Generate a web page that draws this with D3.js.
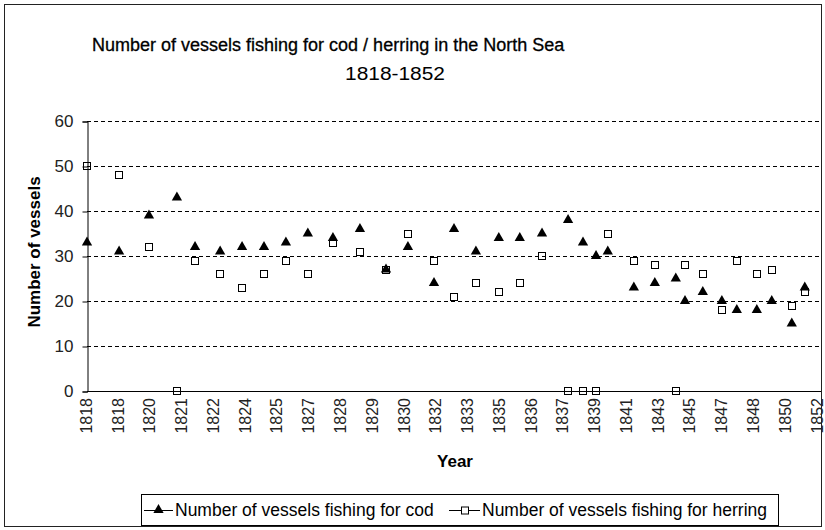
<!DOCTYPE html>
<html>
<head>
<meta charset="utf-8">
<script src="https://cdn.jsdelivr.net/npm/d3@7"></script>
<style>
  body { margin: 0; background: #fff; }
  svg { display: block; font-family: "Liberation Sans", Arial, sans-serif; }
</style>
</head>
<body>
<svg id="chart" width="825" height="530"></svg>
<script>
// ---- Data ----
const years = [1818,1819,1820,1821,1822,1823,1824,1825,1826,1827,1828,1829,1830,1831,1832,1833,1834,1835,1836,1837,1838,1839,1840,1841,1842,1843,1844,1845,1846,1847,1848,1849,1850,1851,1852];
// position of each observation along the year axis, in label steps
const yearPosition = [0,1.01,1.95,2.83,3.40,4.19,4.88,5.57,6.26,6.95,7.74,8.59,9.41,10.10,10.92,11.55,12.24,12.96,13.62,14.32,15.14,15.61,16.02,16.39,17.21,17.87,18.53,18.82,19.38,19.98,20.45,21.08,21.55,22.18,22.59];
const codVessels = [33,31,39,43,32,31,32,32,33,35,34,36,27,32,24,36,31,34,34,35,38,33,30,31,23,24,25,20,22,20,18,18,20,15,23];
const herringVessels = [50,48,32,0,29,26,23,26,29,26,33,31,27,35,29,21,24,22,24,30,0,0,0,35,29,28,0,28,26,18,29,26,27,19,22];
const xTickLabels = ["1818","1818","1820","1821","1822","1824","1825","1827","1828","1829","1830","1832","1833","1835","1836","1837","1839","1841","1843","1845","1847","1848","1850","1852"];
const yTicks = [0,10,20,30,40,50,60];
const seriesNames = ["Number of vessels fishing for cod", "Number of vessels fishing for herring"];
const titleLines = ["Number of vessels fishing for cod / herring in the North Sea", "1818-1852"];

// ---- Layout ----
const svg = d3.select("#chart");
const plot = {left: 87, right: 821, top: 121, bottom: 391};

const x = d3.scaleLinear().domain([0, 23.1]).range([plot.left, plot.right]);
const y = d3.scaleLinear().domain([0, 60]).range([plot.bottom, plot.top]);

// outer border
svg.append("rect").attr("x", 4.5).attr("y", 4.5).attr("width", 817).attr("height", 522)
  .attr("fill", "none").attr("stroke", "#222").attr("stroke-width", 1);

// title
svg.append("text").attr("x", 92).attr("y", 51).attr("font-size", 18).attr("fill", "#000")
  .attr("stroke", "#000").attr("stroke-width", 0.3)
  .text(titleLines[0]);
svg.append("text").attr("x", 345).attr("y", 80).attr("font-size", 18).attr("fill", "#000")
  .attr("textLength", 100).attr("lengthAdjust", "spacingAndGlyphs").text(titleLines[1]);

// gridlines
svg.append("g").selectAll("line").data(yTicks.filter(d => d > 0)).join("line")
  .attr("x1", plot.left).attr("x2", plot.right)
  .attr("y1", d => Math.round(y(d)) + 0.5).attr("y2", d => Math.round(y(d)) + 0.5)
  .attr("stroke", "#000").attr("stroke-width", 1).attr("stroke-dasharray", "4,3");

// y axis
const yAxis = d3.axisLeft(y).tickValues(yTicks).tickSize(5).tickPadding(9).tickFormat(d3.format("d"));
const gy = svg.append("g").attr("transform", `translate(${plot.left + 0.5},0.5)`).call(yAxis);
gy.select(".domain").attr("stroke", "#000");
gy.selectAll(".tick line").attr("stroke", "#000");
gy.selectAll(".tick text").attr("font-size", 17).attr("font-family", "Liberation Sans, Arial, sans-serif").attr("fill", "#222");

// x axis line
svg.append("line").attr("x1", plot.left).attr("x2", plot.right)
  .attr("y1", plot.bottom + 0.5).attr("y2", plot.bottom + 0.5).attr("stroke", "#000");

// x tick labels (rotated)
const xTicks = d3.range(xTickLabels.length);
svg.append("g").selectAll("text").data(xTicks).join("text")
  .attr("transform", d => `translate(${x(d) - 1},398) rotate(-90)`)
  .attr("text-anchor", "end").attr("dy", "0.36em")
  .attr("font-size", 16).attr("fill", "#222")
  .text(d => xTickLabels[d]);

// axis titles
svg.append("text").attr("transform", "translate(40,252) rotate(-90)")
  .attr("text-anchor", "middle").attr("font-size", 17).attr("font-weight", "bold")
  .text("Number of vessels");
svg.append("text").attr("x", 455).attr("y", 467).attr("text-anchor", "middle")
  .attr("font-size", 17).attr("font-weight", "bold").text("Year");

// markers
const tri = d3.symbol().type(d3.symbolTriangle).size(46);
svg.append("g").selectAll("path").data(codVessels).join("path")
  .attr("transform", (d, i) => `translate(${x(yearPosition[i])},${y(d)})`)
  .attr("d", tri).attr("fill", "#000");

svg.append("g").selectAll("rect").data(herringVessels).join("rect")
  .attr("x", (d, i) => Math.round(x(yearPosition[i])) - 3.5)
  .attr("y", d => Math.round(y(d)) - 3.5)
  .attr("width", 7).attr("height", 7)
  .attr("fill", "none").attr("stroke", "#000").attr("stroke-width", 1);

// legend
const lg = svg.append("g");
lg.append("rect").attr("x", 141.5).attr("y", 494.5).attr("width", 637).attr("height", 31)
  .attr("fill", "#fff").attr("stroke", "#000");
const legendY = 510;
// item 1
lg.append("line").attr("x1", 144).attr("x2", 173).attr("y1", legendY + 0.5).attr("y2", legendY + 0.5).attr("stroke", "#000");
lg.append("path").attr("transform", `translate(158.5,${legendY})`).attr("d", tri).attr("fill", "#000");
lg.append("text").attr("x", 175).attr("y", legendY).attr("dy", "0.36em").attr("font-size", 17.5).text(seriesNames[0]);
// item 2
lg.append("line").attr("x1", 449).attr("x2", 480).attr("y1", legendY + 0.5).attr("y2", legendY + 0.5).attr("stroke", "#000");
lg.append("rect").attr("x", 461.5).attr("y", legendY - 3).attr("width", 7).attr("height", 7)
  .attr("fill", "#fff").attr("stroke", "#000");
lg.append("text").attr("x", 482).attr("y", legendY).attr("dy", "0.36em").attr("font-size", 17.5).text(seriesNames[1]);
</script>
</body>
</html>
